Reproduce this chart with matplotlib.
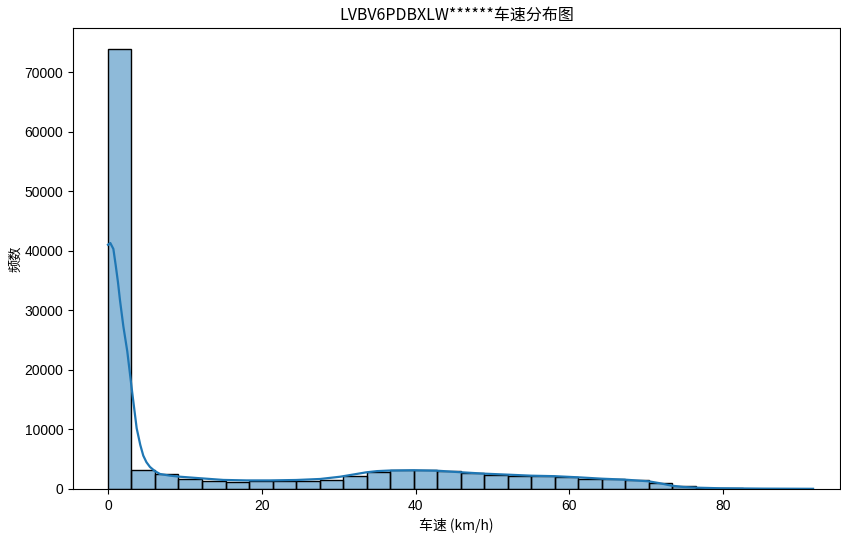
import numpy as np
import matplotlib
matplotlib.use("Agg")
import matplotlib.pyplot as plt

plt.rcParams['font.family'] = ['Noto Sans CJK SC', 'DejaVu Sans']
plt.rcParams['axes.unicode_minus'] = False

# speed range and histogram counts (30 bins)
speed_min = 0.0
speed_max = 91.7
n_bins = 30
counts = [73900, 3120, 2520, 1620, 1310, 1230, 1290, 1310, 1320, 1510,
          2100, 2900, 3150, 3120, 2950, 2650, 2420, 2250, 2100, 2050,
          1700, 1600, 1560, 1000, 420, 170, 90, 60, 40, 25]

# kde curve (scaled to counts)
kde_x = [0.0, 0.3, 0.7, 1.0, 1.3, 1.56, 2.0, 2.51, 3.16, 3.73, 4.2, 4.59,
         5.0, 5.46, 6.1, 6.76, 8.0, 9.36, 12.0, 15.0, 18.0, 21.0, 24.5,
         27.6, 30.2, 32.0, 33.6, 35.0, 36.7, 39.7, 42.7, 46.0, 49.0, 52.1,
         55.1, 58.1, 61.3, 64.2, 67.2, 70.3, 71.8, 73.3, 74.8, 76.6, 79.6,
         85.2, 91.7]
kde_y = [41000, 41300, 40300, 37600, 34700, 31700, 27300, 23100, 16100,
         10200, 7400, 5600, 4500, 3700, 3000, 2520, 2250, 2060, 1800, 1520,
         1440, 1440, 1510, 1680, 2060, 2450, 2800, 3000, 3100, 3150, 3080,
         2800, 2570, 2400, 2230, 2150, 1950, 1730, 1570, 1290, 960, 560, 340,
         220, 120, 60, 30]

edges = np.linspace(speed_min, speed_max, n_bins + 1)

fig = plt.figure(figsize=(8.41, 5.35), dpi=100)
ax = fig.add_axes([0.0868, 0.086, 0.912, 0.8617])

ax.hist(edges[:-1], bins=edges, weights=counts, color='#1f77b4', alpha=0.5,
        edgecolor='none')
ax.hist(edges[:-1], bins=edges, weights=counts, histtype='bar',
        facecolor='none', edgecolor='black', linewidth=1)
ax.plot(kde_x, kde_y, color='#1f77b4', linewidth=1.6)

ax.set_xlim(-4.55, 95.2)
ax.set_ylim(0, 77400)
ax.set_xticks([0, 20, 40, 60, 80])
ax.set_yticks(range(0, 70001, 10000))
ax.tick_params(labelsize=10)
for lab in ax.get_xticklabels() + ax.get_yticklabels():
    lab.set_family('Liberation Sans')

ax.set_title('LVBV6PDBXLW******车速分布图', fontsize=11.5)
ax.set_xlabel('车速 (km/h)', fontsize=10)
ax.set_ylabel('频数', fontsize=9.5)
ax.yaxis.set_label_coords(-0.066, 0.5)

fig.savefig('out.png', dpi=100)
